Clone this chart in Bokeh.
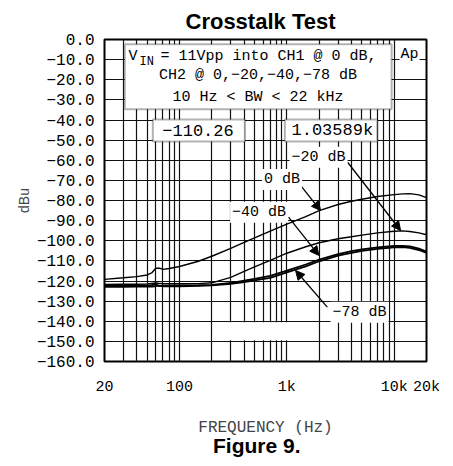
from bokeh.plotting import figure
from bokeh.models import FixedTicker, BoxAnnotation, Label, Arrow, NormalHead, Range1d, LogAxis
from bokeh.embed import file_html
from bokeh.resources import INLINE

# ---------------- data ----------------
freq = [20, 30, 40, 50, 55, 60, 65, 70, 80, 100, 150, 200, 300, 400, 500, 700,
        1000, 1500, 2000, 3000, 4000, 5000, 7000, 10000, 12000, 14000, 17000, 20000]
ch2_0db = [-119.2, -118.4, -117.8, -117.0, -116.0, -113.7, -113.6, -114.2, -113.8, -112.8,
           -110.2, -107.7, -103.8, -100.8, -98.6, -95.2, -91.7, -88.0, -85.0, -82.0,
           -80.4, -79.4, -78.0, -77.1, -76.7, -76.6, -77.2, -78.6]
ch2_m20db = [-121.7, -121.6, -121.6, -121.5, -121.2, -121.0, -121.2, -121.4, -121.4, -121.4,
             -121.3, -120.9, -118.2, -115.2, -113.0, -109.8, -106.2, -103.0, -101.0, -99.0,
             -98.0, -97.2, -96.1, -95.3, -95.1, -95.4, -96.1, -97.0]
ch2_m40db = [-122.4, -122.4, -122.3, -122.3, -122.0, -121.8, -122.4, -122.4, -122.3, -122.2,
             -122.1, -121.9, -121.0, -119.8, -118.9, -117.5, -114.8, -111.8, -109.4, -106.6,
             -105.2, -104.3, -103.3, -102.6, -102.5, -102.8, -103.9, -105.4]
ch2_m78db = [-122.9, -122.9, -122.8, -122.8, -122.8, -122.6, -122.3, -122.7, -122.7, -122.6,
             -122.4, -122.2, -121.4, -120.5, -119.7, -118.4, -115.7, -112.7, -110.2, -107.4,
             -106.0, -105.0, -104.0, -103.3, -103.2, -103.5, -104.6, -106.1]

x_ticks = [20, 100, 1000, 10000, 20000]
x_tick_labels = ["20", "100", "1k", "10k", "20k"]
y_ticks = list(range(-160, 1, 10))
y_tick_labels = ["0.0" if v == 0 else "\u2212%d.0" % (-v) for v in y_ticks]
grid_freqs = [20, 30, 40, 50, 60, 70, 80, 90,
              100, 200, 300, 400, 500, 600, 700, 800, 900,
              1000, 2000, 3000, 4000, 5000, 6000, 7000, 8000, 9000, 10000, 20000]

MONO = "Liberation Mono"
SANS = "Liberation Sans"

p = figure(frame_width=322, frame_height=322, x_axis_type="log",
           x_range=Range1d(20, 20000), y_range=Range1d(-160, 0),
           output_backend="svg", toolbar_location=None,
           min_border_left=104, min_border_right=27, min_border_top=39, min_border_bottom=105)

p.title.text = "Crosstalk Test"
p.title.align = "left"
p.title.text_font = SANS
p.title.text_font_style = "bold"
p.title.text_font_size = "22px"
p.title.text_color = "black"
p.title.offset = 81
p.title.standoff = 11

p.outline_line_color = "black"
p.outline_line_width = 2
p.outline_line_alpha = 1

# axes
p.xaxis.ticker = FixedTicker(ticks=x_ticks)
p.xaxis.major_label_overrides = {t: l for t, l in zip(x_ticks, x_tick_labels)}
p.yaxis.ticker = FixedTicker(ticks=y_ticks)
p.yaxis.major_label_overrides = {t: l for t, l in zip(y_ticks, y_tick_labels)}
for ax in (p.xaxis[0], p.yaxis[0]):
    ax.axis_line_color = None
    ax.major_tick_line_color = None
    ax.minor_tick_line_color = None
    ax.major_tick_out = 0
    ax.major_tick_in = 0
    ax.major_label_text_font = MONO
    ax.major_label_text_color = "black"
p.xaxis.major_label_text_font_size = "15px"
p.yaxis.major_label_text_font_size = "16px"
p.yaxis.major_label_standoff = 10
p.xaxis.major_label_standoff = 17
p.xaxis.axis_label = "FREQUENCY (Hz)"
p.xaxis.axis_label_text_font = MONO
p.xaxis.axis_label_text_font_style = "normal"
p.xaxis.axis_label_text_font_size = "16px"
p.xaxis.axis_label_standoff = 20
p.yaxis.axis_label = "dBu"
p.yaxis.axis_label_text_font = SANS
p.yaxis.axis_label_text_font_style = "normal"
p.yaxis.axis_label_text_font_size = "14px"
p.yaxis.axis_label_standoff = 2

# caption as an extra, tickless axis below
cap_axis = LogAxis(ticker=FixedTicker(ticks=[]), axis_line_color=None,
                   major_tick_line_color=None, minor_tick_line_color=None,
                   major_tick_out=0, major_tick_in=0, minor_tick_out=0, minor_tick_in=0,
                   major_label_text_font_size="0px", major_label_standoff=0,
                   axis_label="Figure 9.\u00a0\u00a0\u00a0", axis_label_standoff=-6,
                   axis_label_text_font=SANS, axis_label_text_font_style="bold",
                   axis_label_text_font_size="21px", axis_label_text_color="black")
p.add_layout(cap_axis, "below")

# grid
p.xgrid.ticker = FixedTicker(ticks=grid_freqs)
p.ygrid.ticker = FixedTicker(ticks=y_ticks)
for g in (p.xgrid[0], p.ygrid[0]):
    g.grid_line_color = "#111111"
    g.grid_line_width = 1.2
    g.grid_line_alpha = 1

# curves
p.line(freq, ch2_0db, line_color="black", line_width=1.4)
p.line(freq, ch2_m20db, line_color="black", line_width=1.4)
p.line(freq, ch2_m40db, line_color="black", line_width=1.8)
p.line(freq, ch2_m78db, line_color="black", line_width=1.8)

# blank patch in grid
p.add_layout(BoxAnnotation(left=205, right=1950, top=-140.5, bottom=-149.5,
                           fill_color="white", fill_alpha=1, line_color=None))

# boxes
p.add_layout(BoxAnnotation(left=30.9, right=9460, top=-2.3, bottom=-34.6,
                           fill_color="white", fill_alpha=1, line_color="black", line_width=2))
p.add_layout(BoxAnnotation(left=56.4, right=406, top=-39.8, bottom=-50.7,
                           fill_color="white", fill_alpha=1, line_color="black", line_width=2))
p.add_layout(BoxAnnotation(left=958, right=6958, top=-39.8, bottom=-50.7,
                           fill_color="white", fill_alpha=1, line_color="black", line_width=2))

def lab(x, y, text, size="15px", align="center", xo=0, yo=0, bg=None, pad=0):
    kw = {}
    if bg:
        kw = dict(background_fill_color=bg, background_fill_alpha=1, padding=pad)
    l = Label(x=x, y=y, text=text, text_font=MONO, text_font_size=size,
              text_align=align, text_baseline="middle", text_color="black",
              x_offset=xo, y_offset=yo, **kw)
    p.add_layout(l)

# box text
lab(33.5, -8.4, "V", align="left")
lab(33.5, -8.4, "IN", size="12px", align="left", xo=11, yo=-6)
lab(33.5, -8.4, "= 11Vpp into CH1 @ 0 dB,", align="left", xo=32)
lab(539, -17.9, "CH2 @ 0,\u221220,\u221240,\u221278 dB")
lab(539, -28.7, "10 Hz < BW < 22 kHz")
lab(148.7, -45.2, "\u2212110.26", size="17px")
lab(2650, -45.2, "1.03589k", size="17px")
lab(13900, -7.5, "Ap", bg="white", pad=1)

# arrows
head = lambda: NormalHead(size=9, fill_color="black", line_color="black", line_width=1)
for (xs, ys, xe, ye) in [(3680, -61.0, 11470, -94.9), (1342, -72.5, 2061, -85.0),
                         (1037, -88.3, 1988, -107.3), (2380, -133.0, 1206, -114.8)]:
    p.add_layout(Arrow(end=head(), x_start=xs, y_start=ys, x_end=xe, y_end=ye,
                       line_color="black", line_width=1.3))

lab(1975, -58.5, "\u221220 dB", bg="white", pad=2)
lab(902, -69.6, "0 dB", bg="white", pad=2)
lab(551, -85.8, "\u221240 dB", bg="white", pad=2)
lab(4760, -135.5, "\u221278 dB", bg="white", pad=2)

open("out.html", "w").write(file_html(p, INLINE))
